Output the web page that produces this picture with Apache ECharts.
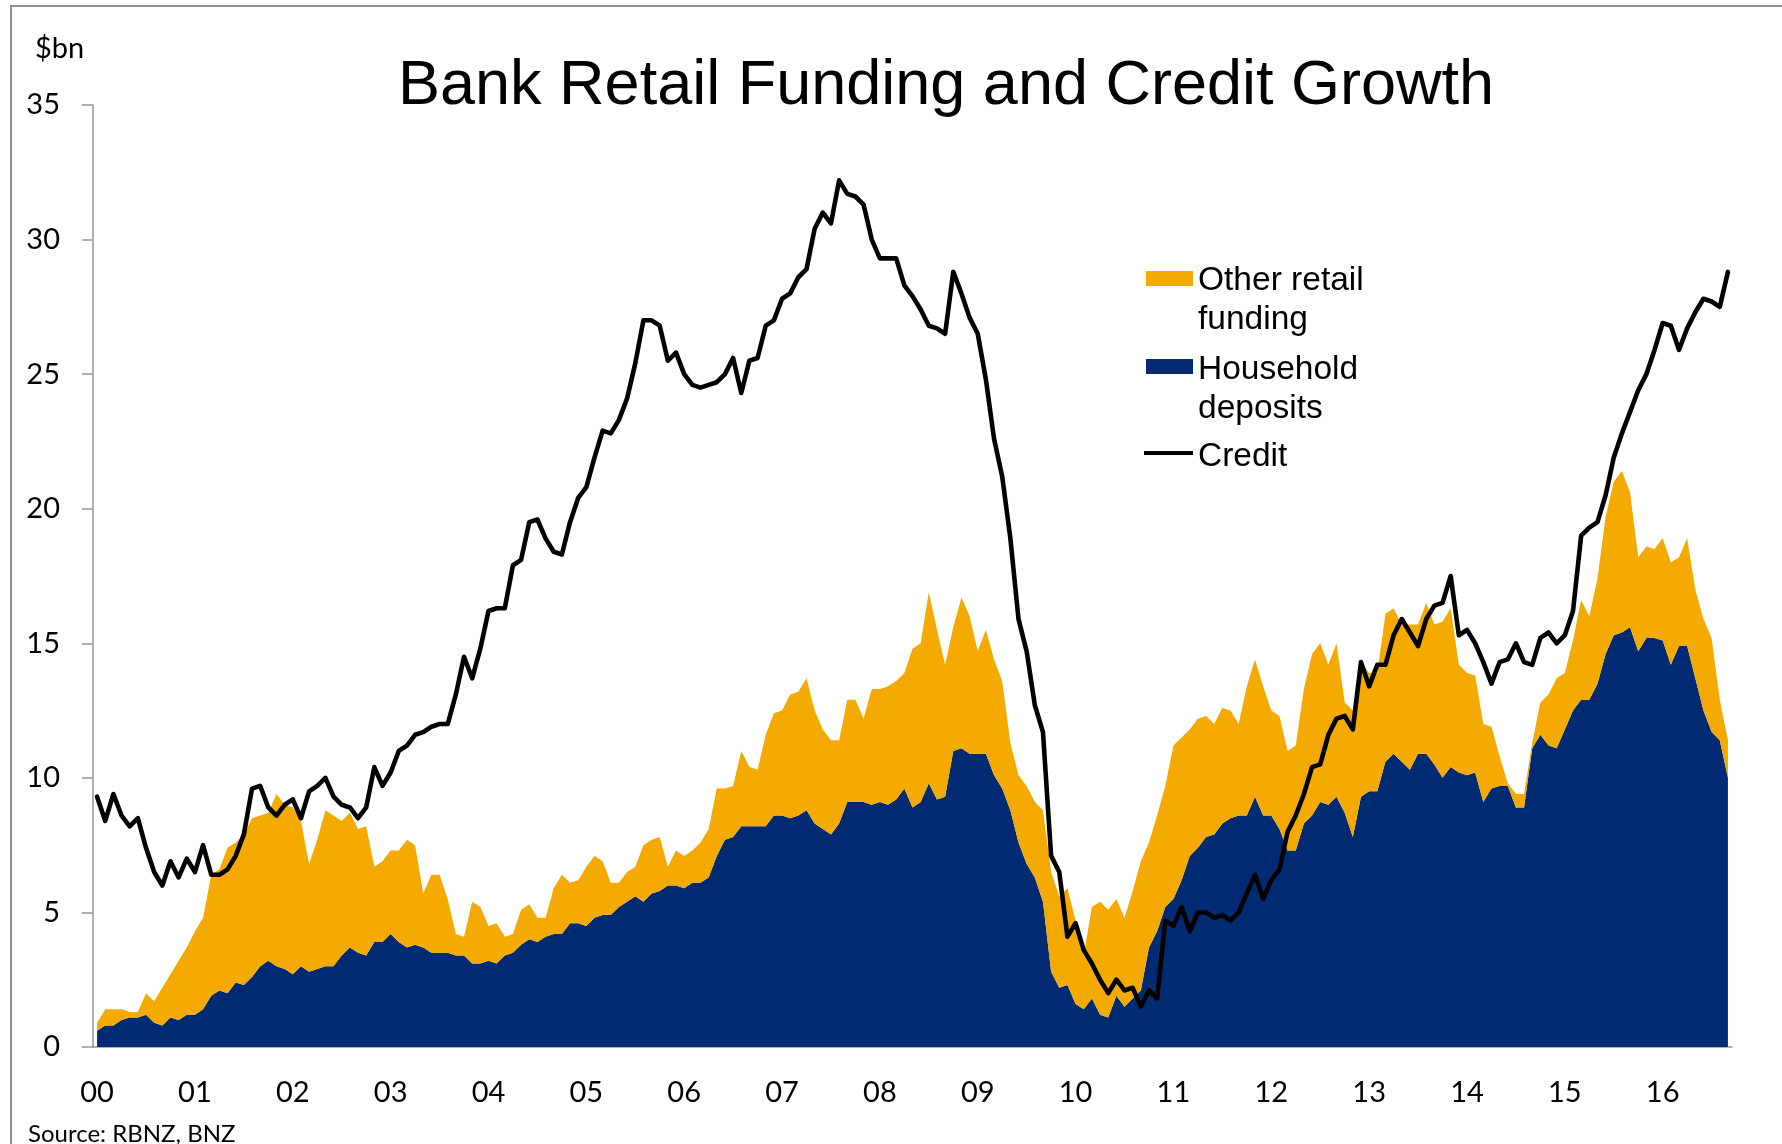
<!DOCTYPE html>
<html>
<head>
<meta charset="utf-8">
<script src="https://cdn.jsdelivr.net/npm/echarts@6/dist/echarts.min.js"></script>
<style>
  html, body { margin: 0; padding: 0; background: #fff; }
  #chart { width: 1782px; height: 1144px; }
</style>
</head>
<body>
<div id="chart"></div>
<script>
// monthly, Jan 2000 .. Sep 2016 ($bn)
const yearLabels = ["00", "01", "02", "03", "04", "05", "06", "07", "08", "09", "10", "11", "12", "13", "14", "15", "16"];

const months = [];
for (let i = 0; i < 201; i++) {
    const yr = 2000 + Math.floor(i / 12);
    months.push(yr + "-" + String((i % 12) + 1).padStart(2, "0"));
}

const credit = [
    9.3, 8.4, 9.4, 8.6, 8.2, 8.5, 7.4, 6.5, 6.0, 6.9, 6.3, 7.0,
    6.5, 7.5, 6.4, 6.4, 6.6, 7.1, 7.9, 9.6, 9.7, 8.9, 8.6, 9.0,
    9.2, 8.5, 9.5, 9.7, 10.0, 9.3, 9.0, 8.9, 8.5, 8.9, 10.4, 9.7,
    10.2, 11.0, 11.2, 11.6, 11.7, 11.9, 12.0, 12.0, 13.1, 14.5, 13.7, 14.8,
    16.2, 16.3, 16.3, 17.9, 18.1, 19.5, 19.6, 18.9, 18.4, 18.3, 19.5, 20.4,
    20.8, 21.9, 22.9, 22.8, 23.3, 24.1, 25.4, 27.0, 27.0, 26.8, 25.5, 25.8,
    25.0, 24.6, 24.5, 24.6, 24.7, 25.0, 25.6, 24.3, 25.5, 25.6, 26.8, 27.0,
    27.8, 28.0, 28.6, 28.9, 30.4, 31.0, 30.6, 32.2, 31.7, 31.6, 31.3, 30.0,
    29.3, 29.3, 29.3, 28.3, 27.9, 27.4, 26.8, 26.7, 26.5, 28.8, 28.0, 27.1,
    26.5, 24.8, 22.6, 21.2, 18.9, 15.9, 14.7, 12.7, 11.7, 7.1, 6.5, 4.1,
    4.6, 3.6, 3.1, 2.5, 2.0, 2.5, 2.1, 2.2, 1.5, 2.1, 1.8, 4.7,
    4.5, 5.2, 4.3, 5.0, 5.0, 4.8, 4.9, 4.7, 5.0, 5.7, 6.4, 5.5,
    6.2, 6.6, 8.0, 8.6, 9.4, 10.4, 10.5, 11.6, 12.2, 12.3, 11.8, 14.3,
    13.4, 14.2, 14.2, 15.3, 15.9, 15.4, 14.9, 15.9, 16.4, 16.5, 17.5, 15.3,
    15.5, 15.0, 14.3, 13.5, 14.3, 14.4, 15.0, 14.3, 14.2, 15.2, 15.4, 15.0,
    15.3, 16.2, 19.0, 19.3, 19.5, 20.5, 21.9, 22.8, 23.6, 24.4, 25.0, 25.9,
    26.9, 26.8, 25.9, 26.7, 27.3, 27.8, 27.7, 27.5, 28.8
];

const household = [
    0.6, 0.8, 0.8, 1.0, 1.1, 1.1, 1.2, 0.9, 0.8, 1.1, 1.0, 1.2,
    1.2, 1.4, 1.9, 2.1, 2.0, 2.4, 2.3, 2.6, 3.0, 3.2, 3.0, 2.9,
    2.7, 3.0, 2.8, 2.9, 3.0, 3.0, 3.4, 3.7, 3.5, 3.4, 3.9, 3.9,
    4.2, 3.9, 3.7, 3.8, 3.7, 3.5, 3.5, 3.5, 3.4, 3.4, 3.1, 3.1,
    3.2, 3.1, 3.4, 3.5, 3.8, 4.0, 3.9, 4.1, 4.2, 4.2, 4.6, 4.6,
    4.5, 4.8, 4.9, 4.9, 5.2, 5.4, 5.6, 5.4, 5.7, 5.8, 6.0, 6.0,
    5.9, 6.1, 6.1, 6.3, 7.1, 7.7, 7.8, 8.2, 8.2, 8.2, 8.2, 8.6,
    8.6, 8.5, 8.6, 8.8, 8.3, 8.1, 7.9, 8.3, 9.1, 9.1, 9.1, 9.0,
    9.1, 9.0, 9.2, 9.6, 8.9, 9.1, 9.8, 9.2, 9.3, 11.0, 11.1, 10.9,
    10.9, 10.9, 10.1, 9.6, 8.8, 7.6, 6.8, 6.3, 5.4, 2.8, 2.2, 2.3,
    1.6, 1.4, 1.8, 1.2, 1.1, 1.9, 1.5, 1.8, 2.1, 3.7, 4.3, 5.2,
    5.5, 6.2, 7.1, 7.4, 7.8, 7.9, 8.3, 8.5, 8.6, 8.6, 9.3, 8.6,
    8.6, 8.1, 7.3, 7.3, 8.3, 8.6, 9.1, 9.0, 9.3, 8.7, 7.8, 9.3,
    9.5, 9.5, 10.6, 10.9, 10.6, 10.3, 10.9, 10.9, 10.5, 10.0, 10.4, 10.2,
    10.1, 10.2, 9.1, 9.6, 9.7, 9.7, 8.9, 8.9, 11.1, 11.6, 11.2, 11.1,
    11.8, 12.5, 12.9, 12.9, 13.5, 14.6, 15.3, 15.4, 15.6, 14.7, 15.2, 15.2,
    15.1, 14.2, 14.9, 14.9, 13.7, 12.5, 11.7, 11.4, 10.0
];

const otherRetail = [
    0.3, 0.6, 0.6, 0.4, 0.2, 0.2, 0.8, 0.8, 1.4, 1.6, 2.2, 2.5,
    3.1, 3.4, 4.5, 4.5, 5.4, 5.2, 5.6, 5.9, 5.6, 5.5, 6.4, 6.1,
    6.2, 5.4, 4.0, 4.8, 5.8, 5.6, 5.0, 5.0, 4.6, 4.8, 2.8, 3.0,
    3.1, 3.4, 4.0, 3.7, 2.0, 2.9, 2.9, 2.0, 0.8, 0.7, 2.3, 2.1,
    1.3, 1.5, 0.7, 0.7, 1.3, 1.3, 0.9, 0.7, 1.7, 2.2, 1.5, 1.6,
    2.2, 2.3, 2.0, 1.2, 0.9, 1.1, 1.1, 2.1, 2.0, 2.0, 0.7, 1.3,
    1.2, 1.2, 1.5, 1.8, 2.5, 1.9, 1.9, 2.8, 2.2, 2.1, 3.4, 3.8,
    3.9, 4.6, 4.6, 4.9, 4.2, 3.7, 3.5, 3.1, 3.8, 3.8, 3.1, 4.3,
    4.2, 4.4, 4.4, 4.3, 5.9, 5.9, 7.1, 6.3, 4.9, 4.6, 5.6, 5.1,
    3.8, 4.6, 4.3, 4.0, 2.5, 2.5, 2.9, 2.8, 3.4, 3.7, 3.4, 3.6,
    3.1, 2.0, 3.4, 4.2, 4.0, 3.6, 3.3, 4.0, 4.8, 3.9, 4.3, 4.5,
    5.7, 5.3, 4.7, 4.8, 4.5, 4.1, 4.3, 4.0, 3.4, 4.8, 5.1, 4.8,
    3.9, 4.2, 3.7, 3.9, 5.0, 6.0, 5.9, 5.2, 5.7, 4.1, 4.7, 5.0,
    4.4, 4.4, 5.5, 5.4, 5.1, 5.4, 4.8, 5.6, 5.2, 5.8, 5.9, 4.0,
    3.8, 3.6, 2.9, 2.3, 1.1, 0.1, 0.5, 0.5, 0.2, 1.2, 1.9, 2.6,
    2.1, 2.6, 3.7, 3.1, 3.9, 5.1, 5.7, 6.0, 5.0, 3.5, 3.4, 3.3,
    3.8, 3.8, 3.3, 4.0, 3.3, 3.4, 3.5, 1.5, 1.4
];

const ORANGE = "#F4AA00";
const NAVY = "#002B73";
const AXIS_GREY = "#969696";
const legendFont = "Liberation Sans, Arial, sans-serif";
const labelFont = "Lato, Open Sans, sans-serif";

const chart = echarts.init(document.getElementById("chart"));

chart.setOption({
    animation: false,
    backgroundColor: "#fff",
    title: {
        text: "Bank Retail Funding and Credit Growth",
        left: 393,
        top: 50,
        textStyle: { fontFamily: legendFont, fontSize: 63, fontWeight: "normal", color: "#000" },
    },
    grid: { left: 93, right: 50, top: 105, bottom: 97 },
    xAxis: {
        type: "category",
        data: months,
        boundaryGap: true,
        axisLine: { lineStyle: { color: AXIS_GREY, width: 1.5 } },
        axisTick: {
            interval: (i) => i % 12 === 0,
            length: 10,
            lineStyle: { color: AXIS_GREY, width: 1.5 },
        },
        axisLabel: {
            interval: (i) => i % 12 === 0,
            formatter: (v, i) => yearLabels[i / 12],
            margin: 31,
            fontFamily: labelFont,
            fontSize: 29,
            color: "#000",
        },
        splitLine: { show: false },
    },
    yAxis: {
        type: "value",
        min: 0,
        max: 35,
        interval: 5,
        axisLine: { show: true, lineStyle: { color: AXIS_GREY, width: 1.5 } },
        axisTick: { show: true, length: 11, lineStyle: { color: AXIS_GREY, width: 1.5 } },
        axisLabel: { margin: 33, fontFamily: labelFont, fontSize: 29, color: "#000" },
        splitLine: { show: false },
    },
    series: [
        {
            name: "Household deposits",
            type: "line",
            stack: "funding",
            data: household,
            symbol: "none",
            lineStyle: { width: 0 },
            areaStyle: { color: NAVY, opacity: 1 },
            itemStyle: { color: NAVY },
            z: 2,
        },
        {
            name: "Other retail funding",
            type: "line",
            stack: "funding",
            data: otherRetail,
            symbol: "none",
            lineStyle: { width: 0 },
            areaStyle: { color: ORANGE, opacity: 1 },
            itemStyle: { color: ORANGE },
            z: 2,
        },
        {
            name: "Credit",
            type: "line",
            data: credit,
            symbol: "none",
            lineStyle: { color: "#000", width: 4.6, join: "round", cap: "round" },
            itemStyle: { color: "#000" },
            z: 3,
        },
    ],
    graphic: [
        // outer frame
        {
            type: "rect",
            shape: { x: 11, y: 6, width: 1800, height: 1200 },
            style: { fill: "none", stroke: "#8f8f8f", lineWidth: 2 },
            silent: true,
        },
        {
            type: "text",
            style: { text: "$bn", x: 35, y: 49, verticalAlign: "middle", fontFamily: labelFont, fontSize: 29, fill: "#000" },
        },
        {
            type: "text",
            style: { text: "Source: RBNZ, BNZ", x: 28, y: 1134, verticalAlign: "middle", fontFamily: labelFont, fontSize: 24, fill: "#000" },
        },
        // legend
        { type: "rect", shape: { x: 1146, y: 271, width: 47, height: 15 }, style: { fill: ORANGE } },
        {
            type: "text",
            style: { text: "Other retail\nfunding", x: 1198, y: 261, verticalAlign: "top", lineHeight: 39, fontFamily: legendFont, fontSize: 33.5, fill: "#000" },
        },
        { type: "rect", shape: { x: 1146, y: 359, width: 47, height: 15 }, style: { fill: NAVY } },
        {
            type: "text",
            style: { text: "Household\ndeposits", x: 1198, y: 350.5, verticalAlign: "top", lineHeight: 39, fontFamily: legendFont, fontSize: 33.5, fill: "#000" },
        },
        { type: "line", shape: { x1: 1144, y1: 453, x2: 1193, y2: 453 }, style: { stroke: "#000", lineWidth: 3.8 } },
        {
            type: "text",
            style: { text: "Credit", x: 1198, y: 437, verticalAlign: "top", lineHeight: 39, fontFamily: legendFont, fontSize: 33.5, fill: "#000" },
        },
    ],
});
</script>
</body>
</html>
